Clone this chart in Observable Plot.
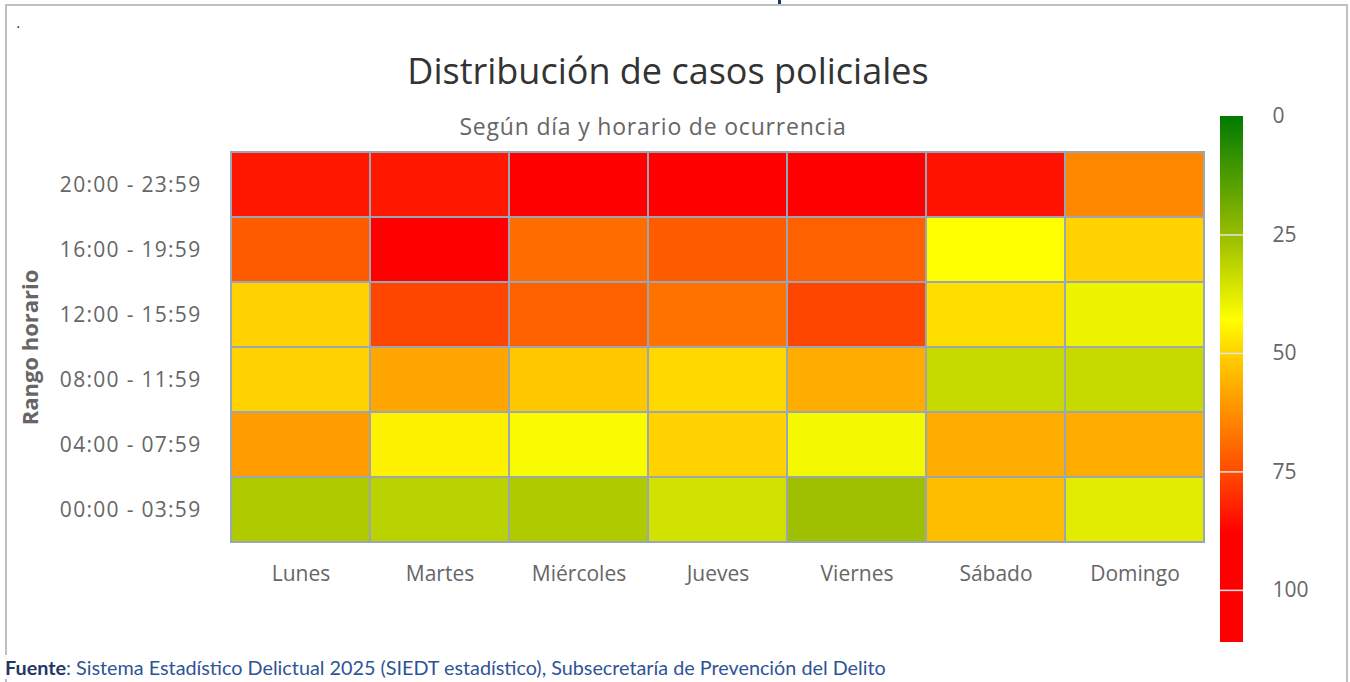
<!DOCTYPE html>
<html><head><meta charset="utf-8">
<script src="https://cdn.jsdelivr.net/npm/d3@7"></script>
<script src="https://cdn.jsdelivr.net/npm/@observablehq/plot@0.6"></script>
<style>
html,body{margin:0;padding:0;background:#fff;}
#page{position:relative;width:1350px;height:682px;overflow:hidden;font-family:"Open Sans",sans-serif;}
#frame{position:absolute;left:5px;top:4px;width:1343px;height:720px;border:2px solid #c0c0c0;border-bottom:none;box-sizing:border-box;}
#topmark{position:absolute;left:778px;top:0px;width:3px;height:4px;background:#1f3864;}
#dot{position:absolute;left:16px;top:15px;font-family:"Liberation Sans",sans-serif;font-size:16px;color:#1f3864;line-height:16px;}
#title{position:absolute;left:0;width:1336px;top:53px;text-align:center;font-size:36px;line-height:36px;color:#333;}
#subtitle{position:absolute;left:0;width:1306px;top:115px;text-align:center;font-size:23px;line-height:23px;letter-spacing:0.8px;color:#666;}
#main{position:absolute;left:0;top:0;}
#main g[aria-label="y-axis tick label"] text{letter-spacing:1.3px;}
#legend{position:absolute;left:1200px;top:100px;}
#footer{position:absolute;left:0;top:655px;padding-left:5px;width:900px;height:24px;background:#fff;font-family:Lato,"Open Sans",sans-serif;font-size:19.8px;line-height:24px;color:#2f5496;white-space:nowrap;}
#footer b{color:#1f3864;}
</style></head>
<body>
<div id="page">
  <div id="frame"></div>
  <div id="topmark"></div>
  <div id="dot">.</div>
  <div id="main"></div>
  <div id="legend"></div>
  <div id="title">Distribución de casos policiales</div>
  <div id="subtitle">Según día y horario de ocurrencia</div>
  <div id="footer"><b>Fuente</b>: Sistema Estadístico Delictual 2025 (SIEDT estadístico), Subsecretaría de Prevención del Delito</div>
</div>
<script>
// ---- data ----
const days = ["Lunes", "Martes", "Miércoles", "Jueves", "Viernes", "Sábado", "Domingo"];
const hourRanges = ["20:00 - 23:59", "16:00 - 19:59", "12:00 - 15:59", "08:00 - 11:59", "04:00 - 07:59", "00:00 - 03:59"];
const casos2000 = [84, 84, 95, 94, 95, 85, 64];
const casos1600 = [72, 91, 69, 72, 71, 43, 50];
const casos1200 = [50, 76, 71, 68, 76, 48, 40];
const casos0800 = [50, 58, 52, 49, 57, 33, 33];
const casos0400 = [60, 45, 42, 50, 41, 57, 57];
const casos0000 = [29, 31, 29, 35, 26, 54, 38];
const colorStops = [0, 25, 43, 50, 75, 88, 111];
const colorRange = ["#007a00", "#98bc00", "#ffff00", "#ffd200", "#ff4c00", "#ff0000", "#ff0000"];
const legendTicks = [0, 25, 50, 75, 100];
const legendMax = 111;

const rows = [casos2000, casos1600, casos1200, casos0800, casos0400, casos0000];
const data = [];
hourRanges.forEach((r, i) => days.forEach((d, j) => data.push({day: d, range: r, value: rows[i][j]})));

const font = '"Open Sans", sans-serif';

const main = Plot.plot({
  width: 1350, height: 600,
  marginLeft: 229, marginRight: 144, marginTop: 150, marginBottom: 56,
  style: {fontFamily: font, fontSize: "21px", color: "#666", background: "transparent", overflow: "visible"},
  x: {domain: days, padding: 0, label: null},
  y: {domain: hourRanges, padding: 0, label: null},
  color: {type: "linear", domain: colorStops, range: colorRange, clamp: true},
  marks: [
    Plot.cell(data, {x: "day", y: "range", fill: "value", stroke: "#9aa6b6", strokeWidth: 2, inset: 0}),
    Plot.axisX({tickSize: 0, tickPadding: 22, fontSize: 21, label: null}),
    Plot.axisY({tickSize: 0, tickPadding: 28, fontSize: 21, label: null}),
    Plot.text(["Rango horario"], {text: d => d, frameAnchor: "left", dx: -199, rotate: -90, textAnchor: "middle", fontSize: 22, fontWeight: "bold", fill: "#666"})
  ]
});
document.getElementById("main").appendChild(main);

const legend = Plot.plot({
  width: 150, height: 560,
  marginLeft: 20, marginRight: 107, marginTop: 16, marginBottom: 18,
  style: {fontFamily: font, fontSize: "21px", color: "#666", background: "transparent", overflow: "visible"},
  x: {domain: [0, 1], axis: null},
  y: {domain: [0, legendMax], reverse: true, axis: null},
  marks: [
    Plot.rect([0], {x1: 0, x2: 1, y1: 0, y2: legendMax, fill: "url(#legendGradient)"}),
    Plot.ruleY(legendTicks.filter(t => t > 0), {x1: 0, x2: 1, stroke: "#e4e4e4", strokeWidth: 1.5}),
    Plot.axisY({anchor: "right", ticks: legendTicks, tickSize: 0, tickPadding: 29, fontSize: 21, label: null})
  ]
});
const svgNS = "http://www.w3.org/2000/svg";
const defs = document.createElementNS(svgNS, "defs");
const grad = document.createElementNS(svgNS, "linearGradient");
grad.setAttribute("id", "legendGradient");
grad.setAttribute("x1", "0"); grad.setAttribute("y1", "0");
grad.setAttribute("x2", "0"); grad.setAttribute("y2", "1");
colorStops.forEach((v, i) => {
  const s = document.createElementNS(svgNS, "stop");
  s.setAttribute("offset", v / legendMax);
  s.setAttribute("stop-color", colorRange[i]);
  grad.appendChild(s);
});
defs.appendChild(grad);
legend.insertBefore(defs, legend.firstChild);
document.getElementById("legend").appendChild(legend);
</script>
</body></html>
